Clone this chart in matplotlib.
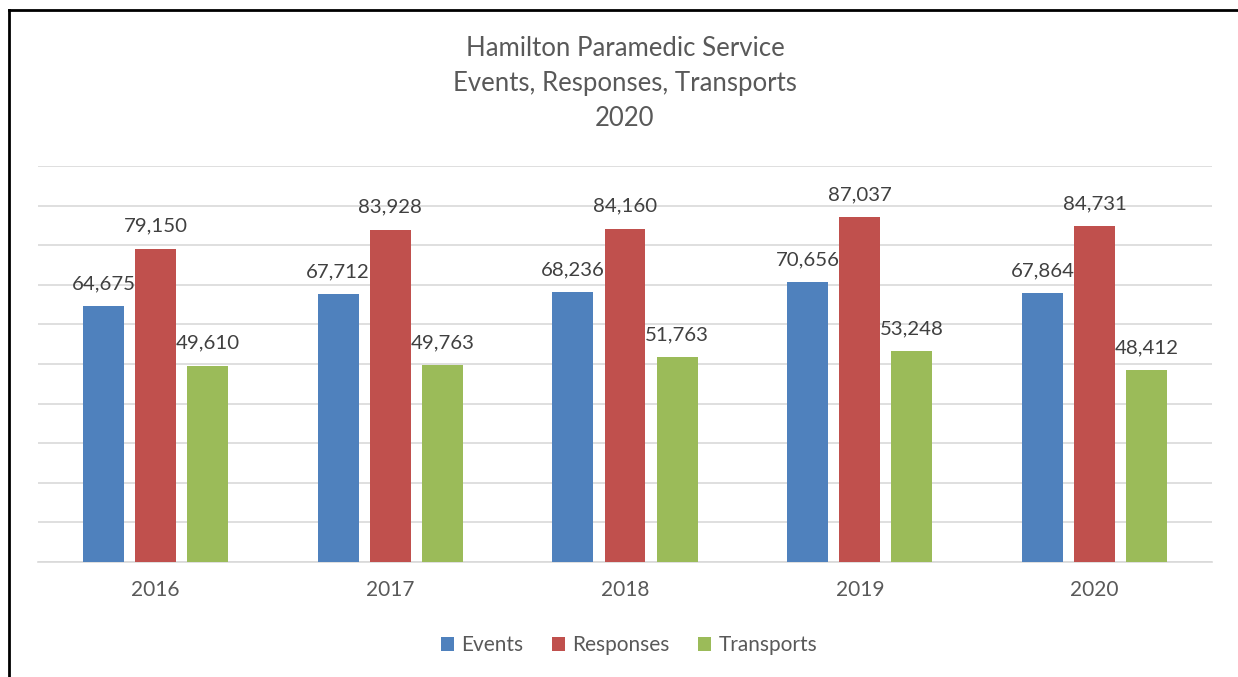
import matplotlib
matplotlib.use("Agg")
import matplotlib.pyplot as plt
from matplotlib.lines import Line2D
import numpy as np

plt.rcParams['font.family'] = ['Lato', 'DejaVu Sans']

years = ["2016", "2017", "2018", "2019", "2020"]
series_names = ["Events", "Responses", "Transports"]
events = [64675, 67712, 68236, 70656, 67864]
responses = [79150, 83928, 84160, 87037, 84731]
transports = [49610, 49763, 51763, 53248, 48412]
colors = ["#4F81BD", "#C0504D", "#9BBB59"]
title_lines = ["Hamilton Paramedic Service", "Events, Responses, Transports", "2020"]

W, H = 1238, 677
fig = plt.figure(figsize=(W / 100, H / 100), dpi=100)
ax = fig.add_axes([38 / W, 1 - 562 / H, (1212 - 38) / W, (562 - 166) / H])

txt = "#595959"
x = np.arange(len(years))
width = 0.1746
step = 0.2215
for i, (name, vals, c) in enumerate(zip(series_names, [events, responses, transports], colors)):
    pos = x + (i - 1) * step
    ax.bar(pos, vals, width=width, color=c, label=name, zorder=3)
    for xp, v in zip(pos, vals):
        ax.annotate(f"{v:,}", (xp, v), xytext=(0, 10), textcoords="offset points",
                    ha="center", va="bottom", fontsize=14.7, color="#404040")

ax.set_xlim(-0.5, len(years) - 0.5)
ax.set_ylim(0, 100000)
ax.set_yticks(np.arange(0, 100001, 10000))
ax.yaxis.grid(True, color="#D9D9D9", linewidth=1.2, zorder=0)
ax.set_yticklabels([])
ax.tick_params(axis="y", length=0)
ax.set_xticks(x)
ax.set_xticklabels(years, fontsize=15, color=txt)
ax.tick_params(axis="x", length=0, pad=13)
for s in ["top", "right", "left"]:
    ax.spines[s].set_visible(False)
ax.spines["bottom"].set_color("#D9D9D9")
ax.spines["bottom"].set_linewidth(1.2)

for k, t in enumerate(title_lines):
    fig.text(625 / W, 1 - (48 + 35 * k) / H, t, ha="center", va="center", fontsize=18.5, color=txt)

leg = fig.legend(loc="center", bbox_to_anchor=(629 / W, 1 - 645 / H), ncol=3, frameon=False,
                 fontsize=15, handlelength=0.65, handleheight=0.65, columnspacing=1.35,
                 handletextpad=0.35)
for t in leg.get_texts():
    t.set_color(txt)

fig.add_artist(Line2D([9 / W, 9 / W], [0, 1 - 10 / H], color="black", linewidth=2, transform=fig.transFigure))
fig.add_artist(Line2D([9 / W, 1], [1 - 10 / H, 1 - 10 / H], color="black", linewidth=2, transform=fig.transFigure))

fig.savefig("out.png", dpi=100)
